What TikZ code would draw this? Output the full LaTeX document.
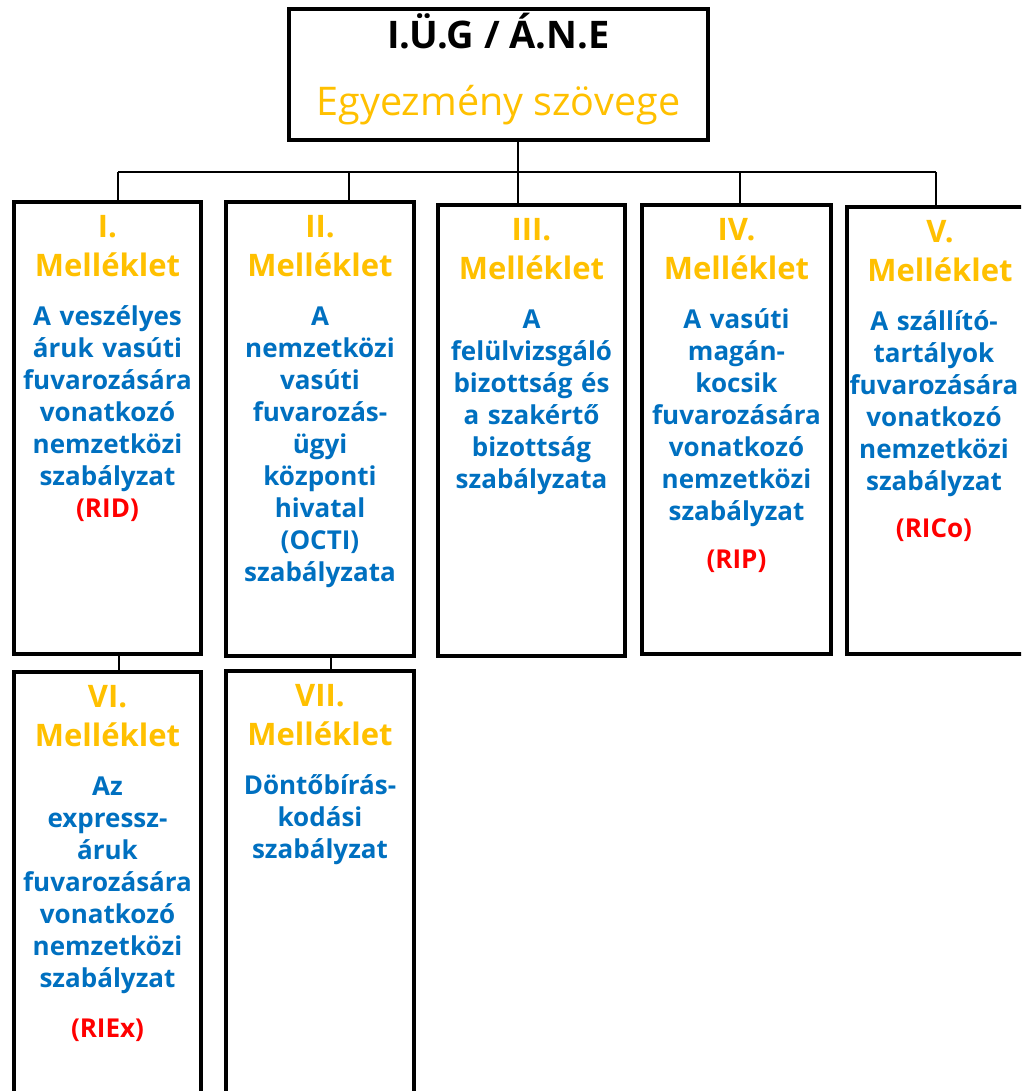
\documentclass[tikz,border=0pt]{standalone}
\usepackage{fontspec}
\setmainfont{Open Sans}
\usepackage{tikz}
\definecolor{annexyellow}{HTML}{FFC000}
\definecolor{annexblue}{HTML}{0070C0}
\definecolor{annexred}{HTML}{FF0000}
\newcommand{\ruleabbr}[1]{{\color{annexred}\fontsize{26}{32}\selectfont #1}}

\begin{document}
\begin{tikzpicture}[x=1pt,y=-1pt,
	annexbox/.style={draw,line width=3.5pt,inner sep=0pt},
	joint/.style={line width=2pt},
	annexhead/.style={text=annexyellow,font=\bfseries\fontsize{31}{39}\selectfont,text width=185pt,align=center,inner sep=0pt,anchor=base},
	annextext/.style={text=annexblue,font=\bfseries\fontsize{26}{32}\selectfont,text width=185pt,align=center,inner sep=0pt,anchor=base}]
	\useasboundingbox (0,0) rectangle (1021,1091);
	\clip (0,0) rectangle (1021,1091);
	\node[annexbox,minimum width=419pt,minimum height=131pt] (top) at (498.5,74.5) {};
	\node[font=\bfseries\fontsize{38}{40}\selectfont,anchor=base] (topname) at ([yshift=-41pt]top.north) {I.Ü.G / Á.N.E};
	\node[text=annexyellow,font=\fontsize{39.5}{40}\selectfont,anchor=base] (toptext) at ([yshift=-108pt]top.north) {Egyezmény szövege};
	\node[annexbox,minimum width=187pt,minimum height=452pt] (b1) at (107.5,428) {};
	\node[annexbox,minimum width=188pt,minimum height=454pt] (b2) at (320,429) {};
	\node[annexbox,minimum width=187pt,minimum height=451pt] (b3) at (531.5,430.5) {};
	\node[annexbox,minimum width=189pt,minimum height=449pt] (b4) at (736.5,429.5) {};
	\node[annexbox,minimum width=186pt,minimum height=447pt] (b5) at (940,430.5) {};
	\node[annexbox,minimum width=187pt,minimum height=438pt] (b6) at (107.5,891) {};
	\node[annexbox,minimum width=188pt,minimum height=439pt] (b7) at (320,890.5) {};
	\node[annexhead] (h1) at ([yshift=-37pt]b1.north) {I.\\Melléklet};
	\node[annexhead] (h2) at ([yshift=-37pt]b2.north) {II.\\Melléklet};
	\node[annexhead] (h3) at ([yshift=-37pt]b3.north) {III.\\Melléklet};
	\node[annexhead] (h4) at ([yshift=-37pt]b4.north) {IV.\\Melléklet};
	\node[annexhead] (h5) at ([yshift=-37pt]b5.north) {V.\\Melléklet};
	\node[annexhead] (h6) at ([yshift=-37pt]b6.north) {VI.\\Melléklet};
	\node[annexhead] (h7) at ([yshift=-37pt]b7.north) {VII.\\Melléklet};
	\node[annextext] (d1) at ([yshift=-125pt]b1.north) {A veszélyes\\áruk vasúti\\fuvarozására\\vonatkozó\\nemzetközi\\szabályzat\\\ruleabbr{(RID)}};
	\node[annextext] (d2) at ([yshift=-125pt]b2.north) {A\\nemzetközi\\vasúti\\fuvarozás-\\ügyi\\központi\\hivatal\\(OCTI)\\szabályzata};
	\node[annextext] (d3) at ([yshift=-125pt]b3.north) {A\\felülvizsgáló\\bizottság és\\a szakértő\\bizottság\\szabályzata};
	\node[annextext] (d4) at ([yshift=-125pt]b4.north) {A vasúti\\magán-\\kocsik\\fuvarozására\\vonatkozó\\nemzetközi\\szabályzat\\[16pt]\ruleabbr{(RIP)}};
	\node[annextext] (d5) at ([xshift=-6pt,yshift=-125pt]b5.north) {A szállító-\\tartályok\\fuvarozására\\vonatkozó\\nemzetközi\\szabályzat\\[15pt]\ruleabbr{(RICo)}};
	\node[annextext] (d6) at ([yshift=-125pt]b6.north) {Az\\expressz-\\áruk\\fuvarozására\\vonatkozó\\nemzetközi\\szabályzat\\[18pt]\ruleabbr{(RIEx)}};
	\node[annextext] (d7) at ([yshift=-125pt]b7.north) {Döntőbírás-\\kodási\\szabályzat};
	\coordinate (bus) at (518,172);
	\coordinate (j1) at (118,172);
	\coordinate (j2) at (349,172);
	\coordinate (j4) at (740,172);
	\coordinate (j5) at (936,172);
	\coordinate (k6) at (119,663);
	\coordinate (k7) at (331,663);
	\draw[joint] (top.south -| bus) -- (b3.north -| bus);
	\draw[joint] (j1) -- (j5);
	\draw[joint] (j1) -- (j1 |- b1.north);
	\draw[joint] (j2) -- (j2 |- b2.north);
	\draw[joint] (j4) -- (j4 |- b4.north);
	\draw[joint] (j5) -- (j5 |- b5.north);
	\draw[joint] (k6 |- b1.south) -- (k6 |- b6.north);
	\draw[joint] (k7 |- b2.south) -- (k7 |- b7.north);
\end{tikzpicture}
\end{document}
